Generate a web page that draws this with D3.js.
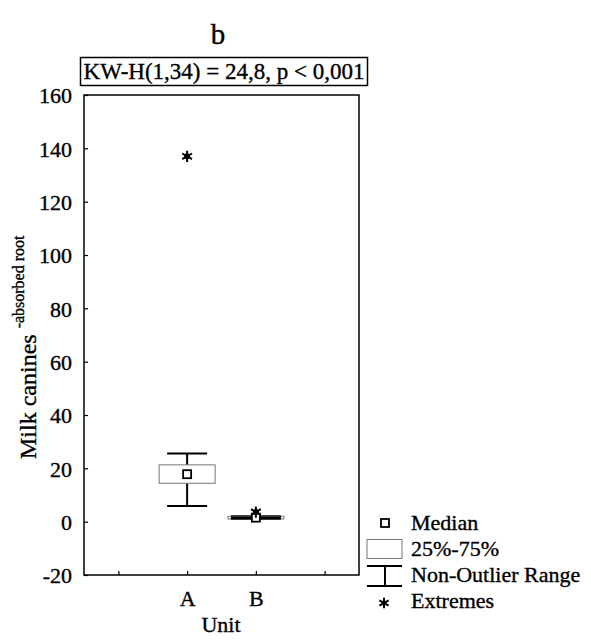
<!DOCTYPE html>
<html><head><meta charset="utf-8">
<script src="https://cdn.jsdelivr.net/npm/d3@7"></script>
<style>body{margin:0;background:#fff}svg{display:block}</style>
</head><body><svg id="c" width="591" height="641" font-family="Liberation Serif"></svg>
<script>
const categories = ["A", "B"];
const medians = [17.8, 1.5];
const q1 = [14.4, 1.0];
const q3 = [21.3, 2.0];
const whiskerLow = [5.9, 1.0];
const whiskerHigh = [25.6, 2.0];
const extremes = [[137], [3.6]];
const yTicks = [-20, 0, 20, 40, 60, 80, 100, 120, 140, 160];
const xTickPositions = [0.5, 1.5, 2.5, 3.5];
const xTickLabels = ["", "A", "B", ""];
const catPositions = [1.5, 2.5];

const FF = "Liberation Serif";
const svg = d3.select("#c");
const L = 84, R = 359, T = 95, B = 575;
const x = d3.scaleLinear().domain([0, 4]).range([L, R]);
const y = d3.scaleLinear().domain([-20, 160]).range([B, T]);

function txt(sel) { return sel.append("text").attr("font-family", FF).attr("fill", "#000").attr("stroke", "#000").attr("stroke-width", 0.35); }

// title
txt(svg).attr("x", 218).attr("y", 44).attr("text-anchor", "middle").attr("font-size", 29).text("b");
// stat box
svg.append("rect").attr("x", 80.5).attr("y", 57.5).attr("width", 287).attr("height", 28).attr("fill", "none").attr("stroke", "#000").attr("stroke-width", 1.5);
txt(svg).attr("x", 224).attr("y", 79).attr("text-anchor", "middle").attr("font-size", 23).text("KW-H(1,34) = 24,8, p < 0,001");

// axes (ticks inward)
const yAxis = d3.axisLeft(y).tickValues(yTicks).tickFormat(d => String(d)).tickSize(-4).tickPadding(12);
const gy = svg.append("g").attr("transform", `translate(${L},0)`).call(yAxis).attr("font-family", FF);
gy.select(".domain").remove();
gy.selectAll("text").attr("font-size", 22).attr("dy", "0.35em").attr("stroke", "#000").attr("stroke-width", 0.35);
gy.selectAll("line").attr("stroke-width", 1.2);

const xAxis = d3.axisBottom(x).tickValues(xTickPositions).tickFormat((d, i) => xTickLabels[i]).tickSize(-4).tickPadding(15);
const gx = svg.append("g").attr("transform", `translate(0,${B})`).call(xAxis).attr("font-family", FF);
gx.select(".domain").remove();
gx.selectAll("text").attr("font-size", 22).attr("stroke", "#000").attr("stroke-width", 0.35);
gx.selectAll("line").attr("stroke-width", 1.2);

// frame
svg.append("rect").attr("x", L).attr("y", T).attr("width", R - L).attr("height", B - T).attr("fill", "none").attr("stroke", "#000").attr("stroke-width", 1.5);

// axis titles
txt(svg).attr("x", 221).attr("y", 632).attr("text-anchor", "middle").attr("font-size", 22).text("Unit");
const yt = txt(svg).attr("transform", "translate(36,459) rotate(-90)").attr("font-size", 24);
yt.append("tspan").text("Milk canines ");
yt.append("tspan").attr("font-size", 16).attr("dy", -12).text("-absorbed root");

// boxes
const boxW = 56, capW = 40;
categories.forEach((c, i) => {
  const cx = x(catPositions[i]);
  const g = svg.append("g");
  g.append("line").attr("x1", cx).attr("x2", cx).attr("y1", y(whiskerLow[i])).attr("y2", y(whiskerHigh[i])).attr("stroke", "#000").attr("stroke-width", 2);
  const cw = i === 0 ? capW : 50;
  [whiskerLow[i], whiskerHigh[i]].forEach(v => {
    g.append("line").attr("x1", cx - cw / 2).attr("x2", cx + cw / 2).attr("y1", y(v)).attr("y2", y(v)).attr("stroke", "#000").attr("stroke-width", 2);
  });
  g.append("rect").attr("x", cx - boxW / 2).attr("y", y(q3[i])).attr("width", boxW).attr("height", y(q1[i]) - y(q3[i]))
    .attr("fill", "#fff").attr("fill-opacity", i === 0 ? 1 : 0).attr("stroke", "#777").attr("stroke-width", 1);
  if (i === 1) {
    g.append("line").attr("x1", cx - cw / 2).attr("x2", cx + cw / 2).attr("y1", y(medians[i])).attr("y2", y(medians[i])).attr("stroke", "#000").attr("stroke-width", 2.5);
  }
  g.append("rect").attr("x", cx - 4).attr("y", y(medians[i]) - 4).attr("width", 8).attr("height", 8).attr("fill", "#fff").attr("stroke", "#000").attr("stroke-width", 1.8);
  extremes[i].forEach(v => {
    g.append("path").attr("d", d3.symbol(d3.symbolAsterisk, 90)()).attr("transform", `translate(${cx},${y(v)})`).attr("stroke", "#000").attr("stroke-width", 2).attr("fill", "none");
    g.append("circle").attr("cx", cx).attr("cy", y(v)).attr("r", 3).attr("fill", "#000");
  });
});

// legend
const lg = svg.append("g");
lg.append("rect").attr("x", 381).attr("y", 519).attr("width", 8).attr("height", 8).attr("fill", "#fff").attr("stroke", "#000").attr("stroke-width", 1.8);
txt(lg).attr("x", 411).attr("y", 530).attr("font-size", 22).text("Median");
lg.append("rect").attr("x", 367).attr("y", 539.5).attr("width", 35).attr("height", 19).attr("fill", "#fff").attr("stroke", "#777").attr("stroke-width", 1);
txt(lg).attr("x", 411).attr("y", 556).attr("font-size", 22).text("25%-75%");
lg.append("line").attr("x1", 367).attr("x2", 402).attr("y1", 566).attr("y2", 566).attr("stroke", "#000").attr("stroke-width", 2);
lg.append("line").attr("x1", 367).attr("x2", 402).attr("y1", 586).attr("y2", 586).attr("stroke", "#000").attr("stroke-width", 2);
lg.append("line").attr("x1", 385).attr("x2", 385).attr("y1", 566).attr("y2", 586).attr("stroke", "#000").attr("stroke-width", 2);
txt(lg).attr("x", 411).attr("y", 582).attr("font-size", 22).text("Non-Outlier Range");
lg.append("path").attr("d", d3.symbol(d3.symbolAsterisk, 80)()).attr("transform", "translate(384,603)").attr("stroke", "#000").attr("stroke-width", 2).attr("fill", "none");
lg.append("circle").attr("cx", 384).attr("cy", 603).attr("r", 2.5).attr("fill", "#000");
txt(lg).attr("x", 411).attr("y", 608).attr("font-size", 22).text("Extremes");
</script></body></html>
